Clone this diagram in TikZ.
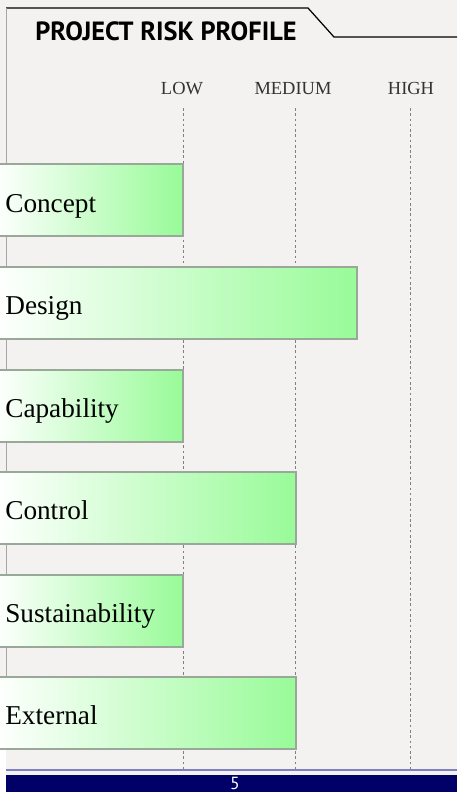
\documentclass[tikz,border=0pt]{standalone}
\usepackage{fontspec}
\setmainfont{Liberation Serif}
\newfontfamily\headfont{PT Sans}
\definecolor{bg}{HTML}{F3F2F0}
\definecolor{grn}{HTML}{98FB98}
\definecolor{edge}{HTML}{9AA89A}
\definecolor{navy}{HTML}{000066}
\definecolor{lav}{HTML}{8080C0}

\begin{document}
\begin{tikzpicture}[x=0.02cm,y=-0.02cm,
	riskbar/.style={draw=edge,line width=0.6pt,left color=white,right color=grn},
	level/.style={inner sep=0pt,anchor=base,font=\fontsize{10.5}{12}\selectfont,text=black!80},
	cat/.style={anchor=base west,inner sep=0pt,font=\fontsize{15.5}{18}\selectfont},
	gridline/.style={gray,line width=0.5pt,dash pattern=on 1.5pt off 1.5pt}]
	\useasboundingbox (0,0) rectangle (457,792);
	\fill[bg] (0,0) rectangle (457,792);
	\fill[white] (0,749) rectangle (6,792);

	% tab and frame
	\draw[black,line width=0.7pt] (6,8) -- (308,8) -- (334,37) -- (457,37);
	\draw[gray!70,line width=0.8pt] (6.5,8) -- (6.5,749);
	\node[anchor=base west,inner sep=0pt,font=\headfont\bfseries\fontsize{15}{18}\selectfont] (title) at (35,40) {PROJECT RISK PROFILE};

	% levels
	\node[level] (low) at (182,94) {LOW};
	\node[level] (medium) at (293,94) {MEDIUM};
	\node[level] (high) at (411,94) {HIGH};
	\draw[gridline] (183,108) -- (183,770);
	\draw[gridline] (295.5,108) -- (295.5,770);
	\draw[gridline] (410.5,108) -- (410.5,770);

	% bars
	\draw[riskbar] (-6,164) rectangle (183,236);
	\node[cat] (concept) at (5,212) {Concept};
	\draw[riskbar] (-6,267) rectangle (357,339);
	\node[cat] (design) at (5,314) {Design};
	\draw[riskbar] (-6,370) rectangle (183,442);
	\node[cat] (capability) at (5,417) {Capability};
	\draw[riskbar] (-6,472) rectangle (296,544);
	\node[cat] (control) at (5,519) {Control};
	\draw[riskbar] (-6,575) rectangle (183,647);
	\node[cat] (sustainability) at (5,622) {Sustainability};
	\draw[riskbar] (-6,677) rectangle (296,749);
	\node[cat] (external) at (5,724) {External};

	% footer
	\draw[lav,line width=1.2pt] (6,770) -- (457,770);
	\fill[navy] (6,775) rectangle (457,792);
	\node[anchor=base,inner sep=0pt,text=white,font=\headfont\fontsize{10}{12}\selectfont] (page) at (235,789) {5};
\end{tikzpicture}
\end{document}
